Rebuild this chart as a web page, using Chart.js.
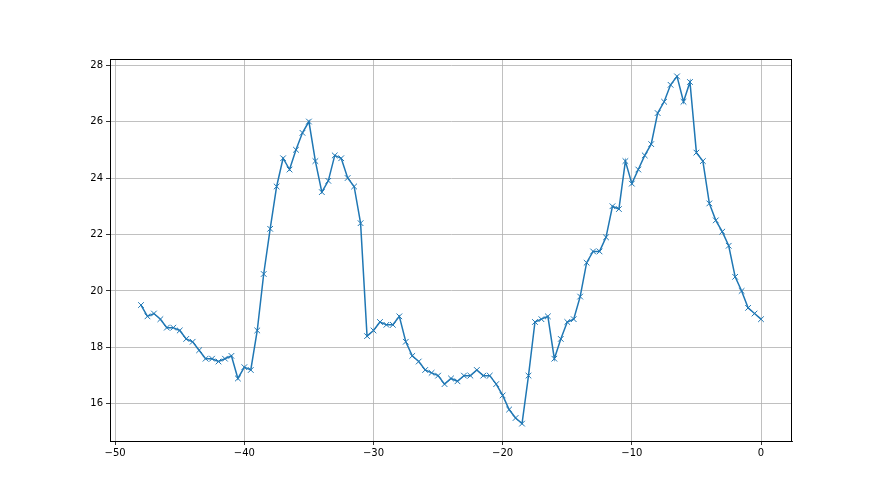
<!DOCTYPE html>
<html>
<head>
<meta charset="utf-8">
<script src="https://cdn.jsdelivr.net/npm/chart.js@4/dist/chart.umd.min.js"></script>
<style>
    body { margin: 0; background: #fff; }
    canvas { display: block; }
</style>
</head>
<body>
<canvas id="Chart" width="880" height="495"></canvas>
<script>
// x positions, every half step from -48 up to 0
const xValues = [
    -48, -47.5, -47, -46.5, -46, -45.5, -45, -44.5, -44, -43.5,
    -43, -42.5, -42, -41.5, -41, -40.5, -40, -39.5, -39, -38.5,
    -38, -37.5, -37, -36.5, -36, -35.5, -35, -34.5, -34, -33.5,
    -33, -32.5, -32, -31.5, -31, -30.5, -30, -29.5, -29, -28.5,
    -28, -27.5, -27, -26.5, -26, -25.5, -25, -24.5, -24, -23.5,
    -23, -22.5, -22, -21.5, -21, -20.5, -20, -19.5, -19, -18.5,
    -18, -17.5, -17, -16.5, -16, -15.5, -15, -14.5, -14, -13.5,
    -13, -12.5, -12, -11.5, -11, -10.5, -10, -9.5, -9, -8.5,
    -8, -7.5, -7, -6.5, -6, -5.5, -5, -4.5, -4, -3.5,
    -3, -2.5, -2, -1.5, -1, -0.5, 0
];

// values
const yValues = [
    19.5, 19.1, 19.2, 19.0, 18.7, 18.7, 18.6, 18.3, 18.2, 17.9,
    17.6, 17.6, 17.5, 17.6, 17.7, 16.9, 17.3, 17.2, 18.6, 20.6,
    22.2, 23.7, 24.7, 24.3, 25.0, 25.6, 26.0, 24.6, 23.5, 23.9,
    24.8, 24.7, 24.0, 23.7, 22.4, 18.4, 18.6, 18.9, 18.8, 18.8,
    19.1, 18.2, 17.7, 17.5, 17.2, 17.1, 17.0, 16.7, 16.9, 16.8,
    17.0, 17.0, 17.2, 17.0, 17.0, 16.7, 16.3, 15.8, 15.5, 15.3,
    17.0, 18.9, 19.0, 19.1, 17.6, 18.3, 18.9, 19.0, 19.8, 21.0,
    21.4, 21.4, 21.9, 23.0, 22.9, 24.6, 23.8, 24.3, 24.8, 25.2,
    26.3, 26.7, 27.3, 27.6, 26.7, 27.4, 24.9, 24.6, 23.1, 22.5,
    22.1, 21.6, 20.5, 20.0, 19.4, 19.2, 19.0
];

const xTicks = [-50, -40, -30, -20, -10, 0];
const yTicks = [16, 18, 20, 22, 24, 26, 28];

const points = xValues.map(function (x, i) {
    return { x: x, y: yValues[i] };
});

// matplotlib style box around the plot area
const frame = {
    id: 'frame',
    afterDraw: function (chart) {
        let a = chart.chartArea;
        let ctx = chart.ctx;
        ctx.save();
        ctx.strokeStyle = '#000';
        ctx.lineWidth = 1;
        ctx.strokeRect(a.left + 0.5, a.top + 0.5, a.right - a.left - 1, a.bottom - a.top);
        ctx.restore();
    }
};

const tickFont = { family: 'DejaVu Sans', size: 10 };

//Uses a real minus sign like matplotlib does.
function minusLabel(value) {
    return String(value).replace('-', '\u2212');
}

config = {
    type: 'line',
    data: {
        datasets: [{
            data: points,
            borderColor: '#1f77b4',
            backgroundColor: '#1f77b4',
            borderWidth: 1.5,
            pointStyle: 'crossRot',
            pointRadius: 4,
            pointBorderWidth: 1,
            pointBorderColor: '#1f77b4',
            fill: false,
            tension: 0
        }]
    },
    options: {
        responsive: false,
        animation: false,
        layout: { padding: { left: 0, top: 59, right: 88, bottom: 0 } },
        plugins: {
            legend: { display: false },
            tooltip: { enabled: false }
        },
        scales: {
            x: {
                type: 'linear',
                min: -50.4,
                max: 2.4,
                afterBuildTicks: function (s) { s.ticks = xTicks.map(v => ({ value: v })); },
                afterFit: function (s) { s.height = 54; },
                grid: { color: '#b0b0b0', lineWidth: 0.8, tickColor: '#000', tickLength: 4 },
                border: { color: '#000' },
                ticks: { color: '#000', font: tickFont, padding: 2, maxRotation: 0, callback: minusLabel }
            },
            y: {
                type: 'linear',
                min: 14.685,
                max: 28.215,
                afterBuildTicks: function (s) { s.ticks = yTicks.map(v => ({ value: v })); },
                afterFit: function (s) { s.width = 110; },
                grid: { color: '#b0b0b0', lineWidth: 0.8, tickColor: '#000', tickLength: 4 },
                border: { color: '#000' },
                ticks: { color: '#000', font: tickFont, padding: 3, callback: minusLabel }
            }
        }
    },
    plugins: [frame]
};

window.myLine = new Chart(document.getElementById('Chart').getContext('2d'), config);
</script>
</body>
</html>
